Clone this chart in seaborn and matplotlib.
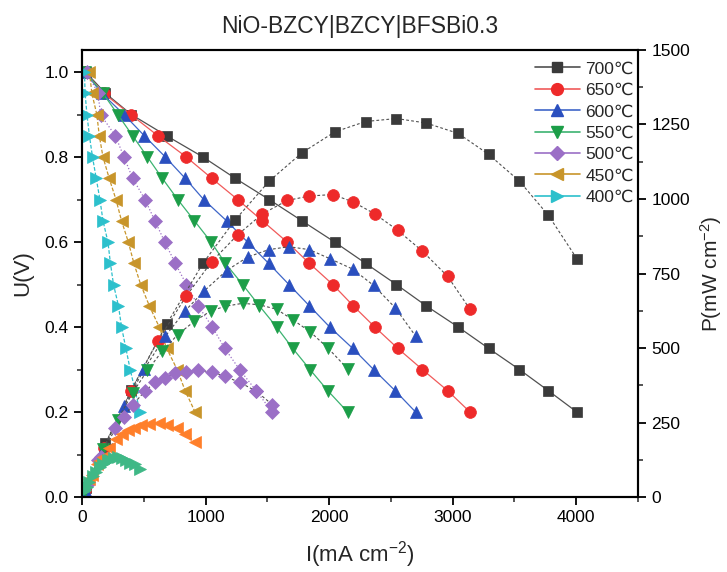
import numpy as np
import pandas as pd
import matplotlib
matplotlib.use("Agg")
import matplotlib.pyplot as plt
from matplotlib.lines import Line2D
from matplotlib.ticker import MultipleLocator
import seaborn as sns

# ---- I-V-P data of the NiO-BZCY|BZCY|BFSBi0.3 cell ----
temperatures = ["700℃", "650℃", "600℃", "550℃", "500℃", "450℃", "400℃"]

voltage = [1.00, 0.95, 0.90, 0.85, 0.80, 0.75, 0.70, 0.65, 0.60,
           0.55, 0.50, 0.45, 0.40, 0.35, 0.30, 0.25, 0.20]

current_700 = [30, 190, 400, 685, 980, 1240, 1515, 1780, 2045, 2295, 2545, 2785, 3045, 3290, 3540, 3775, 4005]
current_650 = [25, 175, 395, 615, 845, 1050, 1260, 1460, 1660, 1840, 2030, 2195, 2370, 2555, 2755, 2960, 3140]
current_600 = [25, 160, 340, 505, 675, 835, 985, 1170, 1340, 1510, 1675, 1840, 2005, 2190, 2360, 2535, 2700]
current_550 = [25, 170, 290, 410, 530, 650, 775, 910, 1045, 1160, 1300, 1435, 1575, 1705, 1845, 1990, 2150]
current_500 = [40, 130, 150, 270, 340, 410, 510, 590, 670, 755, 845, 940, 1055, 1155, 1275, 1410, 1540]
current_450 = [60, 80, 120, 140, 170, 220, 275, 320, 375, 420, 475, 545, 625, 685, 770, 835, 915]
current_400 = [20, 25, 40, 60, 85, 115, 145, 170, 210, 230, 255, 295, 320, 355, 390, 430, 470]

power_700 = [30, 180, 360, 580, 785, 930, 1060, 1155, 1225, 1260, 1270, 1255, 1220, 1150, 1060, 945, 800]
power_650 = [25, 165, 355, 525, 675, 790, 880, 950, 995, 1010, 1015, 990, 950, 895, 825, 740, 630]
power_600 = [25, 150, 305, 430, 540, 625, 690, 760, 805, 830, 840, 830, 800, 765, 710, 635, 540]
power_550 = [25, 160, 260, 350, 425, 490, 545, 590, 625, 640, 650, 645, 630, 595, 555, 500, 430]
power_500 = [40, 125, 135, 230, 270, 310, 355, 385, 400, 415, 420, 425, 420, 405, 385, 355, 310]
power_450 = [60, 75, 110, 120, 135, 165, 195, 210, 225, 230, 240, 245, 250, 240, 230, 210, 185]
power_400 = [20, 25, 35, 50, 70, 85, 100, 110, 125, 125, 130, 135, 130, 125, 115, 110, 95]

currents = [current_700, current_650, current_600, current_550, current_500, current_450, current_400]
powers = [power_700, power_650, power_600, power_550, power_500, power_450, power_400]

# ---- styling per temperature ----
marker_colors = ["#3a3a3a", "#ee2a2a", "#2a4fbf", "#1c9e48", "#9b6fc6", "#c8952a", "#2cc0cc"]
line_colors = ["#505050", "#f05a5a", "#3f66c8", "#3cb371", "#9b6fc6", "#c8952a", "#2cc0cc"]
markers = ["s", "o", "^", "v", "D", "<", ">"]
msizes = [7.5, 8.5, 9, 9, 7, 9, 9]
v_styles = ["-", "-", "-", "-", ":", (0, (3, 1.5)), (0, (3, 1.5))]
# power curves of the two lowest temperatures use their own colours
p_marker_colors = marker_colors[:5] + ["#ff7f2a", "#3fb886"]

sns.set_theme(style="ticks")
plt.rcParams["font.family"] = ["Liberation Sans", "DejaVu Sans"]
plt.rcParams["mathtext.default"] = "regular"

fig = plt.figure(figsize=(7.27, 5.72), dpi=100)
ax = fig.add_axes([0.1128, 0.1311, 0.7648, 0.7815])
ax2 = ax.twinx()

# voltage curves
for cur, col, lcol, mk, ms, ls in zip(currents, marker_colors, line_colors, markers, msizes, v_styles):
    df = pd.DataFrame({"I": cur, "U": voltage})
    sns.lineplot(data=df, x="I", y="U", ax=ax, sort=False, estimator=None,
                 color=lcol, linewidth=0.9, linestyle=ls, marker=mk,
                 markersize=ms, markerfacecolor=col, markeredgecolor=col,
                 markeredgewidth=0.5, legend=False)

# power density curves
for cur, pw, col, mk, ms in zip(currents, powers, p_marker_colors, markers, msizes):
    df = pd.DataFrame({"I": cur, "P": pw})
    sns.lineplot(data=df, x="I", y="P", ax=ax2, sort=False, estimator=None,
                 color="#505050", linewidth=0.8, linestyle=(0, (2.5, 2)), marker=mk,
                 markersize=ms, markerfacecolor=col, markeredgecolor=col,
                 markeredgewidth=0.5, legend=False)

ax.set_xlim(0, 4500)
ax.set_ylim(0, 1.052)
ax2.set_ylim(0, 1500)

ax.xaxis.set_major_locator(MultipleLocator(1000))
ax.xaxis.set_minor_locator(MultipleLocator(500))
ax.yaxis.set_major_locator(MultipleLocator(0.2))
ax.yaxis.set_minor_locator(MultipleLocator(0.1))
ax2.yaxis.set_major_locator(MultipleLocator(250))
ax2.yaxis.set_minor_locator(MultipleLocator(125))
ax.yaxis.set_major_formatter(matplotlib.ticker.FormatStrFormatter("%.1f"))

for a in (ax, ax2):
    for s in a.spines.values():
        s.set_visible(True)
        s.set_linewidth(1.5)
        s.set_color("black")
    a.tick_params(which="major", direction="out", length=6, width=1.3, labelsize=12.5, colors="black")
    a.tick_params(which="minor", direction="out", length=3.5, width=1.1)
ax.tick_params(top=False, right=False, which="both")
ax2.tick_params(left=False, which="both")

ax.set_xlabel("I(mA cm$^{-2}$)", fontsize=16, labelpad=10)
ax.set_ylabel("U(V)", fontsize=16, labelpad=8)
ax2.set_ylabel("P(mW cm$^{-2}$)", fontsize=15, labelpad=6)
ax.set_title("NiO-BZCY|BZCY|BFSBi0.3", fontsize=16.5, pad=12)

handles = [Line2D([0], [0], color=lc, lw=1.2, marker=mk, markersize=ms,
                  markerfacecolor=mc, markeredgecolor=mc)
           for lc, mc, mk, ms in zip(line_colors, marker_colors, markers, msizes)]
ax2.legend(handles, temperatures, loc="upper right", frameon=False, fontsize=12.5,
           handlelength=2.6, handletextpad=0.3, labelspacing=0.36,
           borderaxespad=0.0, bbox_to_anchor=(1.005, 0.99))

fig.savefig("out.png", dpi=100)
